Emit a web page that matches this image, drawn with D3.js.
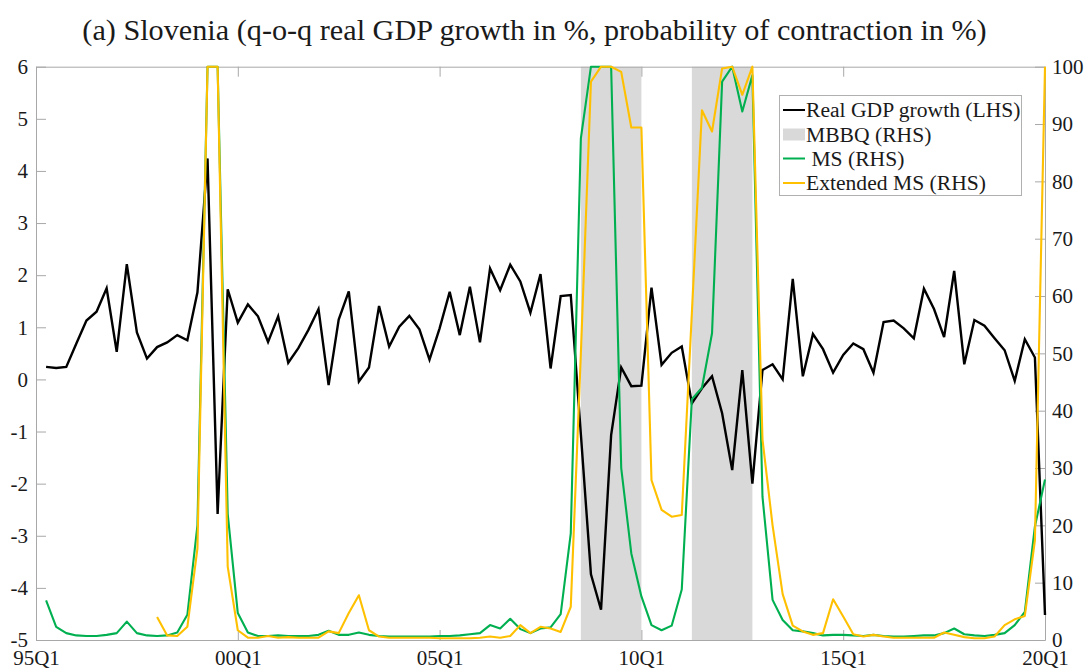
<!DOCTYPE html>
<html><head><meta charset="utf-8">
<script src="https://cdn.jsdelivr.net/npm/d3@7"></script>
<style>
body{margin:0;background:#fff;}
svg{display:block;}
text{font-family:"Liberation Serif","Times New Roman",serif;fill:#1a1a1a;}
</style>
</head><body>
<svg id="chart" width="1084" height="668"></svg>
<script>
// ---------------- data ----------------
const titleText = "(a) Slovenia (q-o-q real GDP growth in %, probability of contraction in %)";
const firstYear = 1995;            // index 0 = 95Q1
const tickYears  = [1995, 2000, 2005, 2010, 2015, 2020];
const tickLabels = ["95Q1", "00Q1", "05Q1", "10Q1", "15Q1", "20Q1"];
const leftTicks  = [-5, -4, -3, -2, -1, 0, 1, 2, 3, 4, 5, 6];
const rightTicks = [0, 10, 20, 30, 40, 50, 60, 70, 80, 90, 100];
const legendLabels = ["Real GDP growth (LHS)", "MBBQ (RHS)", " MS (RHS)", "Extended MS (RHS)"];

// MBBQ contraction periods (start quarter, end quarter)
const mbbqPeriods = [["08Q3", "10Q1"], ["11Q2", "12Q4"]];

// q-o-q real GDP growth, 95Q1 .. 20Q1 (95Q1 not available)
const gdpGrowth = [null,
  0.24, 0.22, 0.24, 0.69, 1.13, 1.30, 1.75, 0.53, 2.21, 0.90,
  0.40, 0.62, 0.71, 0.85, 0.75, 1.67, 4.24, -2.58, 1.73, 1.09,
  1.44, 1.21, 0.72, 1.21, 0.32, 0.60, 0.95, 1.35, -0.11, 1.15,
  1.69, -0.04, 0.23, 1.41, 0.63, 1.01, 1.22, 0.96, 0.38, 0.98,
  1.68, 0.85, 1.78, 0.71, 2.13, 1.71, 2.20, 1.88, 1.28, 2.02,
  0.21, 1.60, 1.62, -1.05, -3.74, -4.42, -1.07, 0.23, -0.13, -0.12,
  1.76, 0.28, 0.51, 0.63, -0.46, -0.17, 0.06, -0.65, -1.74, 0.18,
  -2.00, 0.18, 0.29, 0.00, 1.93, 0.06, 0.87, 0.58, 0.13, 0.47,
  0.69, 0.58, 0.13, 1.10, 1.13, 0.98, 0.79, 1.74, 1.35, 0.81,
  2.08, 0.29, 1.14, 1.03, 0.79, 0.56, -0.03, 0.77, 0.42, -4.52];

// MS probability of contraction (%)
const msProb = [null,
  6.9, 2.3, 1.2, 0.8, 0.7, 0.7, 0.9, 1.2, 3.2, 1.2,
  0.8, 0.7, 0.8, 1.3, 4.4, 20, 100, 100, 22, 4.7,
  1.3, 0.7, 0.7, 0.8, 0.7, 0.7, 0.7, 0.9, 1.6, 0.9,
  0.9, 1.3, 0.9, 0.7, 0.6, 0.6, 0.6, 0.6, 0.6, 0.7,
  0.7, 0.8, 1.0, 1.2, 2.6, 2.0, 3.7, 1.9, 1.2, 2.0,
  2.2, 4.5, 18.6, 87.5, 100, 100, 100, 30, 15.1, 7.6,
  2.6, 1.7, 2.5, 8.8, 42, 44, 53.5, 97.4, 100, 92.2,
  98.5, 25, 7.0, 3.5, 1.7, 1.5, 1.2, 0.8, 0.9, 0.9,
  0.8, 0.7, 0.9, 0.7, 0.6, 0.6, 0.7, 0.8, 0.8, 1.2,
  2.0, 1.0, 0.8, 0.7, 0.9, 1.2, 2.6, 4.9, 19.8, 28];

// Extended MS probability of contraction (%), starts 98Q1
const extMsProb = [null, null, null, null, null, null, null, null, null, null, null, null,
  4.0, 0.8, 0.7, 2.3, 16, 100, 100, 12.8, 1.7,
  0.4, 0.4, 0.7, 0.4, 0.5, 0.4, 0.4, 0.4, 1.5, 1.2,
  4.7, 7.8, 1.7, 0.6, 0.4, 0.4, 0.4, 0.4, 0.4, 0.3,
  0.3, 0.3, 0.3, 0.4, 0.6, 0.4, 0.7, 2.6, 1.2, 2.3,
  2.0, 1.4, 5.8, 50, 97.4, 100, 100, 99.1, 89.4, 89.4,
  27.9, 22.7, 21.5, 21.8, 57, 92.4, 88.7, 99.7, 100, 95.1,
  100, 35, 20, 8, 2.5, 1.5, 0.9, 1.2, 7.1, 4.1,
  1.0, 0.6, 0.9, 0.6, 0.4, 0.4, 0.4, 0.4, 0.4, 1.3,
  0.9, 0.5, 0.3, 0.3, 0.6, 2.6, 3.6, 4.2, 17.4, 100];

// ---------------- chart ----------------
const svg = d3.select("#chart");
const W = 1084, H = 668;
const m = {left: 36, right: 1045, top: 66.7, bottom: 640};
const C = {gdp: "#000000", ms: "#00b050", ext: "#ffc000", band: "#d9d9d9", axis: "#a8a8a8"};

const qTime = i => firstYear + i / 4;
const parseQ = s => 2000 + (+s.slice(0, 2) >= 50 ? -100 : 0) + +s.slice(0, 2) + (+s.slice(3) - 1) / 4;

const x  = d3.scaleLinear().domain([tickYears[0], tickYears[tickYears.length - 1]]).range([m.left, m.right]);
const yL = d3.scaleLinear().domain([-5, 6]).range([m.bottom, m.top]);
const yR = d3.scaleLinear().domain([0, 100]).range([m.bottom, m.top]);

svg.append("rect").attr("width", W).attr("height", H).attr("fill", "#fff");

// title
const title = svg.append("text").attr("x", 534.5).attr("y", 40).attr("text-anchor", "middle")
  .style("font-size", "24px").text(titleText);
const tl = title.node().getComputedTextLength();
title.style("font-size", (24 * 905 / tl) + "px");

// MBBQ bands
svg.append("g").selectAll("rect").data(mbbqPeriods).join("rect")
  .attr("x", d => x(parseQ(d[0])))
  .attr("width", d => x(parseQ(d[1])) - x(parseQ(d[0])))
  .attr("y", yR(100)).attr("height", yR(0) - yR(100))
  .attr("fill", C.band);

// axes
function styleAxis(g) {
  g.select(".domain").attr("stroke", C.axis).attr("stroke-width", 1);
  g.selectAll(".tick line").attr("stroke", C.axis).attr("stroke-width", 1);
  g.selectAll(".tick text").style("font-size", "21px").attr("fill", "#1a1a1a");
  g.attr("font-family", null).attr("font-size", null);
}
svg.append("g").attr("transform", `translate(0,${m.bottom})`)
  .call(d3.axisBottom(x).tickValues(tickYears).tickFormat((d, i) => tickLabels[i])
    .tickSizeInner(-10).tickSizeOuter(0).tickPadding(10))
  .call(styleAxis);
svg.append("g").attr("transform", `translate(0,${m.top})`)
  .call(d3.axisTop(x).tickValues(tickYears).tickFormat("").tickSizeInner(-10).tickSizeOuter(0))
  .call(styleAxis);
svg.append("g").attr("transform", `translate(${m.left},0)`)
  .call(d3.axisLeft(yL).tickValues(leftTicks).tickFormat(d => String(d))
    .tickSizeInner(-10).tickSizeOuter(0).tickPadding(8))
  .call(styleAxis);
svg.append("g").attr("transform", `translate(${m.right},0)`)
  .call(d3.axisRight(yR).tickValues(rightTicks).tickFormat(d => String(d))
    .tickSizeInner(-10).tickSizeOuter(0).tickPadding(7))
  .call(styleAxis);

// lines
const toPts = arr => arr.map((v, i) => ({t: qTime(i), v}));
const lineL = d3.line().defined(d => d.v !== null).x(d => x(d.t)).y(d => yL(d.v));
const lineR = d3.line().defined(d => d.v !== null).x(d => x(d.t)).y(d => yR(d.v));

svg.append("path").datum(toPts(gdpGrowth)).attr("d", lineL)
  .attr("fill", "none").attr("stroke", C.gdp).attr("stroke-width", 2.4).attr("stroke-linejoin", "miter");
svg.append("path").datum(toPts(msProb)).attr("d", lineR)
  .attr("fill", "none").attr("stroke", C.ms).attr("stroke-width", 2.1).attr("stroke-linejoin", "round");
svg.append("path").datum(toPts(extMsProb)).attr("d", lineR)
  .attr("fill", "none").attr("stroke", C.ext).attr("stroke-width", 2.1).attr("stroke-linejoin", "round");

// legend
const lg = svg.append("g");
lg.append("rect").attr("x", 779.5).attr("y", 95.5).attr("width", 242).attr("height", 100)
  .attr("fill", "#fff").attr("stroke", "#b0b0b0").attr("stroke-width", 1);
const ly = [110, 134.5, 158.5, 183];
const kinds = ["line", "patch", "line", "line"];
const cols = [C.gdp, C.band, C.ms, C.ext];
legendLabels.forEach((lab, i) => {
  if (kinds[i] === "line") {
    lg.append("line").attr("x1", 783).attr("x2", 805).attr("y1", ly[i]).attr("y2", ly[i])
      .attr("stroke", cols[i]).attr("stroke-width", 2);
  } else {
    lg.append("rect").attr("x", 783).attr("y", ly[i] - 6).attr("width", 22).attr("height", 12).attr("fill", cols[i]);
  }
  lg.append("text").attr("x", 806).attr("y", ly[i]).attr("dy", "0.34em")
    .style("font-size", "21.6px").style("white-space", "pre").text(lab);
});
</script>
</body></html>
